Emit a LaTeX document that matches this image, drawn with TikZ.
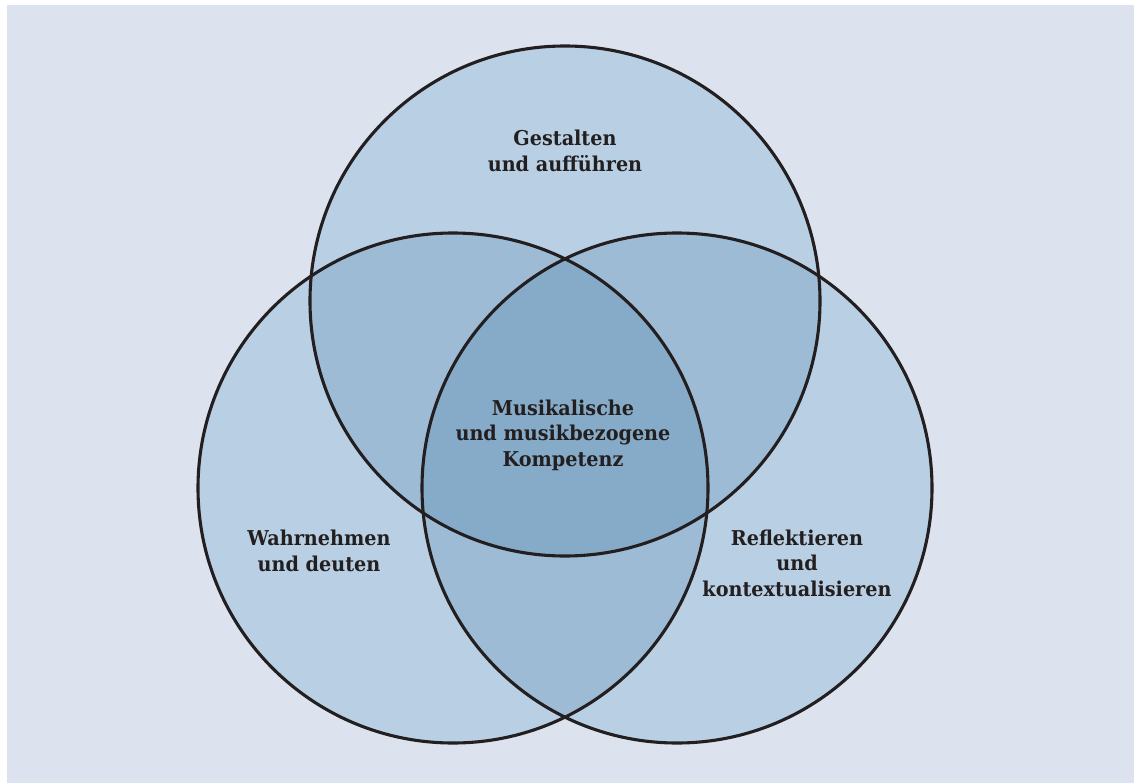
\documentclass[tikz,border=0pt]{standalone}
\usepackage{fontspec}
\setmainfont{DejaVu Serif}[FakeStretch=0.94]
\definecolor{panel}{RGB}{220,227,239}
\definecolor{one}{RGB}{185,207,227}
\definecolor{two}{RGB}{157,187,212}
\definecolor{three}{RGB}{134,171,200}
\definecolor{ink}{RGB}{35,31,32}
\tikzset{
  ring/.style={draw=ink, line width=3.1bp},
  label/.style={text=ink, align=center, font=\bfseries\fontsize{20.5}{25.5}\selectfont, inner sep=0pt},
}
\begin{document}
\begin{tikzpicture}[x=1bp, y=-1bp]
  \useasboundingbox (0,0) rectangle (1134,783);
  \fill[white] (0,0) rectangle (1134,783);
  \fill[panel] (7,5) rectangle (1134,783);
  % circle centres
  \coordinate (T) at (565,301);
  \coordinate (L) at (453,488);
  \coordinate (R) at (677,488);
  \def\rad{255}
  % single areas
  \fill[one] (T) circle[radius=\rad];
  \fill[one] (L) circle[radius=\rad];
  \fill[one] (R) circle[radius=\rad];
  % pairwise overlaps
  \begin{scope}
    \clip (T) circle[radius=\rad];
    \fill[two] (L) circle[radius=\rad];
    \fill[two] (R) circle[radius=\rad];
  \end{scope}
  \begin{scope}
    \clip (L) circle[radius=\rad];
    \fill[two] (R) circle[radius=\rad];
  \end{scope}
  % common centre
  \begin{scope}
    \clip (T) circle[radius=\rad];
    \clip (L) circle[radius=\rad];
    \fill[three] (R) circle[radius=\rad];
  \end{scope}
  % outlines
  \draw[ring] (T) circle[radius=\rad];
  \draw[ring] (L) circle[radius=\rad];
  \draw[ring] (R) circle[radius=\rad];
  % labels
  \node[label] (gestalten) at (565,151) {Gestalten\\und aufführen};
  \node[label] (kompetenz) at (563,435) {Musikalische\\und musikbezogene\\Kompetenz};
  \node[label] (wahrnehmen) at (319,551) {Wahrnehmen\\und deuten};
  \node[label] (reflektieren) at (797,563) {Reflektieren\\und\\kontextualisieren};
\end{tikzpicture}
\end{document}
